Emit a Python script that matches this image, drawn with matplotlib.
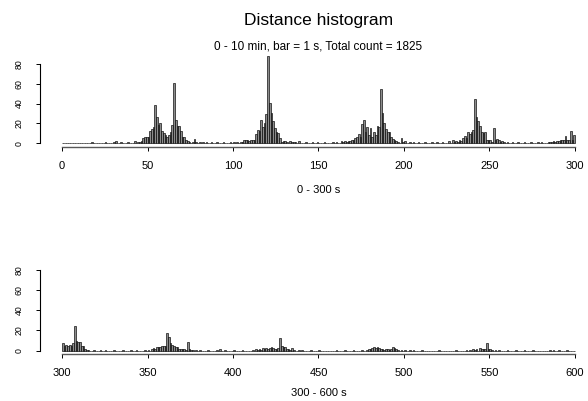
import numpy as np
import matplotlib
matplotlib.use("Agg")
import matplotlib.pyplot as plt

plt.rcParams['font.family'] = ['Liberation Sans', 'DejaVu Sans']

# counts per 1 s bin, stored as runs (first second, counts) plus single small bins

# 0 - 300 s
top_runs = [
    (44, [1, 1, 2, 5, 6, 6, 6, 12, 14, 16, 39, 26, 18, 20, 12, 10, 8, 6, 8, 11,
          18, 61, 23, 17, 17, 12, 6, 6, 3, 2, 1, 0, 1, 4, 1]),
    (104, [1, 1, 3, 3, 3, 2, 3, 3, 3, 9, 13, 12, 23, 16, 20, 29, 88, 41, 30, 22,
           15, 11, 10, 5, 1, 2, 2, 1, 0, 2, 1, 1, 1, 0, 2]),
    (163, [2, 1, 2, 1, 2, 2, 3, 3, 5, 6, 9, 6, 19, 23, 11, 16, 8, 15, 6, 11,
           8, 17, 16, 55, 30, 20, 14, 11, 11, 6, 4, 3, 2, 1, 0, 5, 1, 2]),
    (226, [2, 0, 3, 1, 2, 1, 3, 2, 5, 7, 5, 11, 9, 11, 13, 45, 26, 22, 17, 11,
           10, 11, 3, 3, 3, 1, 15, 3, 4, 3, 1, 2, 1]),
    (284, [1, 1, 1, 2, 1, 2, 2, 3, 3, 3, 7, 3, 3, 12, 3, 8]),
]
top_single_sec = [17, 25, 30, 31, 34, 38, 42, 80, 82, 84, 87, 90, 94, 98, 100, 102,
                  142, 146, 149, 153, 158, 160, 203, 205, 208, 212, 216, 219, 222,
                  260, 263, 266, 270, 274, 278, 280]
top_single_cnt = [1, 1, 1, 2, 1, 1, 2, 1, 1, 1, 1, 1, 1, 1, 1, 1,
                  1, 1, 1, 1, 1, 1, 1, 1, 1, 1, 1, 1, 1,
                  1, 1, 1, 1, 1, 1, 1]

# 300 - 600 s
bottom_runs = [
    (300, [8, 5, 6, 5, 6, 5, 8, 24, 10, 9, 9, 5, 5, 2, 1, 1]),
    (352, [2, 3, 2, 4, 4, 4, 5, 5, 5, 18, 14, 8, 6, 5, 4, 4, 2, 2, 2, 2,
           1, 9, 2, 1, 1]),
    (411, [1, 0, 2, 1, 2, 1, 3, 2, 3, 2, 3, 4, 3, 2, 2, 3, 13, 5, 4, 4,
           2, 2, 1, 3, 1]),
    (478, [1, 2, 2, 3, 4, 3, 4, 3, 2, 2, 1, 2, 2, 1, 2, 4, 3, 2, 1]),
    (538, [1, 0, 2, 1, 2, 0, 3, 2, 2, 2, 8, 2, 2, 1]),
]
bottom_single_sec = [318, 322, 325, 330, 335, 340, 343, 348, 350, 378, 380, 385, 390,
                     392, 395, 400, 405, 438, 440, 445, 450, 460, 465, 470, 475, 498,
                     500, 503, 505, 510, 520, 530, 536, 553, 555, 560, 565, 570, 575,
                     585, 587, 590, 595]
bottom_single_cnt = [1, 1, 1, 1, 1, 1, 1, 1, 1, 1, 1, 1, 1,
                     2, 1, 1, 1, 1, 1, 1, 1, 1, 1, 1, 1, 1,
                     1, 1, 1, 1, 1, 1, 1, 1, 1, 1, 1, 1, 1,
                     1, 1, 1, 1]

top_ticks = [0, 50, 100, 150, 200, 250, 300]
bottom_ticks = [300, 350, 400, 450, 500, 550, 600]
y_ticks = [0, 20, 40, 60, 80]


def build(first, runs, single_sec, single_cnt):
    counts = np.zeros(300)
    for start, run in runs:
        counts[start - first:start - first + len(run)] = run     # fill contiguous runs
    for s, c in zip(single_sec, single_cnt):
        counts[s - first] = c
    return counts


top_counts = build(0, top_runs, top_single_sec, top_single_cnt)
bottom_counts = build(300, bottom_runs, bottom_single_sec, bottom_single_cnt)
total = int(top_counts.sum() + bottom_counts.sum())

fig = plt.figure(figsize=(5.88, 4.01), dpi=100)
ax1 = fig.add_axes([0.068, 0.6322, 0.9473, 0.2306])
ax2 = fig.add_axes([0.068, 0.1172, 0.9473, 0.2222])


def panel(ax, first, counts, ticks, ylow, yhigh):
    secs = np.arange(first, first + 300)
    ax.bar(secs, counts, width=1.0, align="edge", color="0.55",
           edgecolor="black", linewidth=0.45)
    ax.set_xlim(first - 12.9, first + 312.9)
    ax.set_ylim(ylow, yhigh)
    for side in ["top", "right"]:
        ax.spines[side].set_visible(False)
    ax.spines["left"].set_bounds(0, 80)
    ax.spines["bottom"].set_bounds(first, first + 300)
    ax.spines["left"].set_linewidth(0.8)
    ax.spines["bottom"].set_linewidth(1.0)
    ax.spines["bottom"].set_color("0.35")
    ax.set_xticks(ticks)
    ax.set_yticks(y_ticks)
    ax.tick_params(axis="x", length=3, width=0.7, labelsize=8, pad=7)
    ax.tick_params(axis="y", length=3, width=0.7, labelsize=6.3, pad=9, labelrotation=90)
    for lab in ax.get_yticklabels():
        lab.set_va("center")


panel(ax1, 0, top_counts, top_ticks, -4.3, 89)
panel(ax2, 300, bottom_counts, bottom_ticks, -3.3, 85)

fig.text(0.5417, 0.950, "Distance histogram", ha="center", va="center", fontsize=12.5)
fig.text(0.5417, 0.883, "0 - 10 min, bar = 1 s, Total count = 1825",
         ha="center", va="center", fontsize=8.5)
fig.text(0.5417, 0.526, "0 - 300 s", ha="center", va="center", fontsize=8)
fig.text(0.5417, 0.020, "300 - 600 s", ha="center", va="center", fontsize=8)

fig.savefig("out.png", dpi=100)
